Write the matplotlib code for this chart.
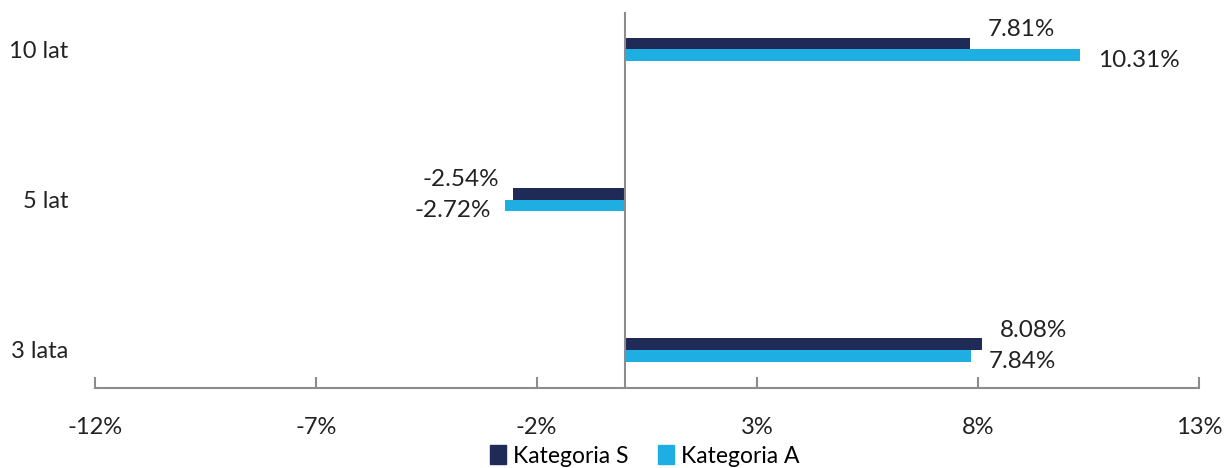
import matplotlib
matplotlib.use("Agg")
import matplotlib.pyplot as plt
import matplotlib.patches as mpatches
import numpy as np

categories = ["3 lata", "5 lat", "10 lat"]
kat_s = [8.08, -2.54, 7.81]
kat_a = [7.84, -2.72, 10.31]
xticks = [-12, -7, -2, 3, 8, 13]

DARK = "#1F2A56"
LIGHT = "#1FAEE2"
TXT = "#222222"

plt.rcParams["font.family"] = ["Lato", "DejaVu Sans"]

W, H = 1230, 468
fig = plt.figure(figsize=(W / 100, H / 100), dpi=100)
ax = fig.add_axes([95 / W, 1 - 388 / H, (1199 - 95) / W, (388 - 12) / H])

y = np.arange(len(categories))
bh = 0.077
ax.barh(y + bh / 2, kat_s, height=bh, color=DARK, label="Kategoria S", zorder=2)
ax.barh(y - bh / 2, kat_a, height=bh, color=LIGHT, label="Kategoria A", zorder=2)

# data labels: dark series above-outside, light series slightly below-outside
for yi, v in zip(y + bh / 2, kat_s):
    ax.annotate(f"{v:.2f}%", (v, yi), xytext=(13 if v > 0 else -10, 10),
                textcoords="offset points", ha="left" if v > 0 else "right",
                va="center", fontsize=17.5, color=TXT)
for yi, v in zip(y - bh / 2, kat_a):
    ax.annotate(f"{v:.2f}%", (v, yi), xytext=(13 if v > 0 else -10, -4),
                textcoords="offset points", ha="left" if v > 0 else "right",
                va="center", fontsize=17.5, color=TXT)

ax.set_xlim(-12, 13)
ax.set_ylim(-0.253, 2.247)
ax.axvline(0, color="#8C8C8C", lw=1.5, zorder=3)

for s in ["top", "right", "left"]:
    ax.spines[s].set_visible(False)
ax.spines["bottom"].set_color("#8C8C8C")
ax.spines["bottom"].set_linewidth(1.5)

ax.set_xticks(xticks)
ax.set_xticklabels([f"{t}%" for t in xticks], fontsize=17, color=TXT)
ax.tick_params(axis="x", direction="in", length=8, width=1.5, color="#8C8C8C", pad=21)
ax.set_yticks(y)
ax.set_yticklabels(categories, fontsize=17, color=TXT)
ax.tick_params(axis="y", length=0, pad=19)

handles = [mpatches.Patch(color=DARK, label="Kategoria S"),
           mpatches.Patch(color=LIGHT, label="Kategoria A")]
fig.legend(handles=handles, loc="center", bbox_to_anchor=(645 / W, 1 - 456 / H),
           ncol=2, frameon=False, handlelength=0.7, handleheight=0.9,
           handletextpad=0.3, columnspacing=1.3, prop={"size": 16.5})

fig.savefig("out.png", dpi=100)
